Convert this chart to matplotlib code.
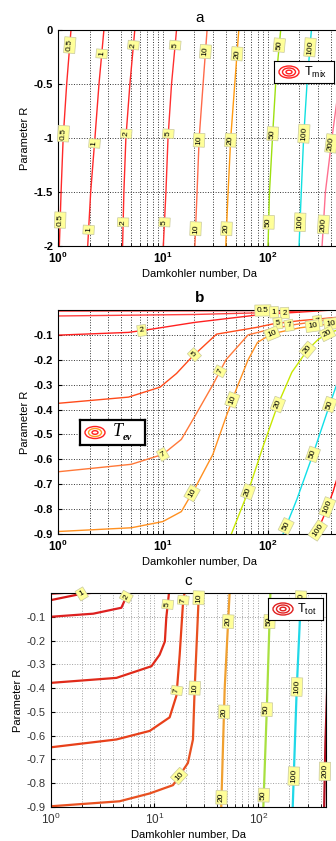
import numpy as np
import matplotlib.pyplot as plt
from matplotlib.patches import Ellipse

plt.rcParams['font.family'] = ['Liberation Sans', 'DejaVu Sans']
plt.rcParams['mathtext.fontset'] = 'custom'
plt.rcParams['mathtext.rm'] = 'Liberation Sans'
plt.rcParams['mathtext.it'] = 'Liberation Sans:italic'
plt.rcParams['mathtext.bf'] = 'Liberation Sans:bold'

W, H = 336, 841

# ---- panel a : T_mix (lines read at fixed R) ----
a_levels = ['0.5', '1', '2', '5', '10', '20', '50', '100', '200']
a_r = [0, -0.5, -1, -1.5, -2]
a_da = [
    [1.33, 1.21, 1.12, 1.07, 1.03],
    [2.74, 2.46, 2.25, 2.05, 1.92],
    [5.4, 4.85, 4.44, 4.25, 4.13],
    [13.5, 12.1, 11.2, 10.7, 10.1],
    [26.4, 24.2, 22.2, 21.2, 20.2],
    [53, 48.5, 44.4, 41.9, 39.8],
    [133, 119, 111, 104, 100.7],
    [261, 237, 220, 209, 199],
    [560, 480, 410, 355, 330],
]
a_colors = ['#ff2a2a', '#ff2a2a', '#ff2a2a', '#ff3030', '#ff6a4a',
            '#ff9a10', '#9ee010', '#10e0e0', '#ff7090']
a_label_r = [
    [-0.14, -0.96, -1.76], [-0.22, -1.05, -1.85], [-0.14, -0.96, -1.78],
    [-0.14, -0.96, -1.78], [-0.2, -1.02, -1.84], [-0.22, -1.02, -1.84],
    [-0.14, -0.96, -1.78], [-0.16, -0.96, -1.78], [-1.05, -1.8],
]

# ---- panel b : T_ev (lines read at fixed Da) ----
b_levels = ['0.5', '1', '2', '5', '7', '10', '20', '50', '100']
b_da = [
    [1, 30, 90, 140],
    [1, 20, 90, 200, 280],
    [1, 4.7, 7.8, 20, 87, 150, 300, 420],
    [1, 4.7, 9.4, 13.5, 18.8, 32.5, 78, 112, 200, 500],
    [1, 5, 10, 15, 20, 30, 40, 65, 100, 160, 300, 500],
    [1, 5, 10, 15, 20, 30, 40, 50, 65, 80, 110, 200, 300, 500],
    [45, 65, 90, 125, 170, 240, 300, 360, 500],
    [140, 190, 270, 390, 500],
    [290, 350, 420, 520],
]
b_r = [
    [-0.004, -0.003, -0.002, 0.0],
    [-0.024, -0.018, -0.011, -0.004, 0.0],
    [-0.101, -0.09, -0.077, -0.05, -0.018, -0.012, -0.004, 0.0],
    [-0.375, -0.35, -0.31, -0.255, -0.19, -0.097, -0.07, -0.056, -0.043, -0.028],
    [-0.65, -0.62, -0.58, -0.52, -0.43, -0.3, -0.2, -0.1, -0.08, -0.062, -0.045, -0.032],
    [-0.89, -0.875, -0.85, -0.81, -0.72, -0.58, -0.43, -0.32, -0.2, -0.13, -0.095, -0.072, -0.062, -0.05],
    [-0.9, -0.73, -0.55, -0.38, -0.25, -0.16, -0.12, -0.097, -0.075],
    [-0.9, -0.76, -0.58, -0.38, -0.25],
    [-0.9, -0.82, -0.73, -0.6],
]
b_colors = ['#ff2020', '#ff4040', '#ff2020', '#ff4a1a', '#ff7838',
            '#ff9020', '#c8e800', '#10e0e8', '#ff1010']
b_label_da = [[90], [115], [6.3, 145], [20, 125], [10, 35, 160, 300],
              [19, 46, 110, 268, 400], [65, 125, 240, 370], [150, 270, 390], [300, 370]]

# ---- panel c : T_tot (lines read at fixed Da) ----
c_levels = ['0.5', '1', '2', '5', '7', '10', '20', '50', '100', '200']
c_da = [
    [1, 1.3],
    [1, 1.9, 2.4],
    [1, 2.57, 4.8, 5.4, 5.8],
    [1, 4.3, 9.35, 11.2, 12.6, 13.0, 13.8],
    [1, 4.3, 9.0, 14.0, 16.3, 17.5, 18.9, 19.5],
    [1, 4.6, 9.0, 15.1, 21, 23.5, 24.4, 26.8],
    [44, 47.5, 53],
    [112, 121, 131],
    [215, 235, 259],
    [432, 444, 470],
]
c_r = [
    [-0.003, 0.0],
    [-0.03, -0.005, 0.0],
    [-0.1, -0.087, -0.062, -0.012, 0.0],
    [-0.378, -0.357, -0.308, -0.26, -0.204, -0.104, 0.0],
    [-0.649, -0.616, -0.58, -0.523, -0.431, -0.26, -0.033, 0.0],
    [-0.897, -0.876, -0.843, -0.808, -0.715, -0.616, -0.403, 0.0],
    [-0.9, -0.403, 0.0],
    [-0.9, -0.488, 0.0],
    [-0.9, -0.403, 0.0],
    [-0.9, -0.63, -0.3],
]
c_colors = ['#d81818', '#d81818', '#dd2020', '#e02a1a', '#e8401a',
            '#e85020', '#f0a030', '#a8e040', '#20d8e8', '#b01020']
c_label_r = [[], [-0.004], [-0.016], [-0.048], [-0.03, -0.41], [-0.02, -0.4, -0.77],
             [-0.12, -0.5, -0.86], [-0.12, -0.49, -0.85], [-0.03, -0.395, -0.77], [-0.75]]

fig = plt.figure(figsize=(W / 100, H / 100), dpi=100)


def make_axes(left, top, right, bottom):
    return fig.add_axes([left / W, 1 - bottom / H, (right - left) / W, (bottom - top) / H])


def put_label(ax, x, y, dx, dy, text):
    p0 = ax.transData.transform((dx[0], dy[0]))
    p1 = ax.transData.transform((dx[1], dy[1]))
    ang = np.degrees(np.arctan2(p1[1] - p0[1], p1[0] - p0[0]))
    if ang > 90:
        ang -= 180
    if ang <= -90:
        ang += 180
    ax.text(x, y, text, fontsize=6, rotation=ang, rotation_mode='anchor',
            ha='center', va='center', color='k', zorder=5, clip_on=False,
            bbox=dict(boxstyle='square,pad=0.25', fc='#ffff99', ec='#c8c8a0', lw=0.5))


def label_at_r(ax, da, r, at, text):
    r = np.asarray(r)[::-1]
    lg = np.log10(np.asarray(da))[::-1]
    if r[0] > r[-1]:
        r, lg = r[::-1], lg[::-1]
    x = 10 ** np.interp(at, r, lg)
    xa = 10 ** np.interp(at - 0.05, r, lg)
    xb = 10 ** np.interp(at + 0.05, r, lg)
    put_label(ax, x, at, (xa, xb), (at - 0.05, at + 0.05), text)


def label_at_da(ax, da, r, at, text):
    lg = np.log10(da)
    x = np.log10(at)
    y = np.interp(x, lg, r)
    ya = np.interp(x - 0.05, lg, r)
    yb = np.interp(x + 0.05, lg, r)
    put_label(ax, at, y, (10 ** (x - 0.05), 10 ** (x + 0.05)), (ya, yb), text)


def style_axes(ax, xmax, ylim, yticks, ylabels, bold, gridcol):
    ax.set_xscale('log')
    ax.set_xlim(1, xmax)
    ax.set_ylim(*ylim)
    ax.set_yticks(yticks)
    w = 'bold' if bold else 'normal'
    ax.set_yticklabels(ylabels, fontsize=8, fontweight=w)
    ax.set_xticks([1, 10, 100])
    if bold:
        ax.set_xticklabels([r'$\mathbf{10^{0}}$', r'$\mathbf{10^{1}}$', r'$\mathbf{10^{2}}$'], fontsize=8.5)
    else:
        ax.set_xticklabels([r'$10^{0}$', r'$10^{1}$', r'$10^{2}$'], fontsize=8.5, color='#333333')
        ax.tick_params(axis='y', labelcolor='#333333')
    ax.tick_params(which='both', direction='in', length=3)
    ax.tick_params(which='minor', length=2)
    ax.grid(True, which='both', axis='x', ls=':', color=gridcol, lw=0.7)
    ax.grid(True, which='major', axis='y', ls=':', color=gridcol, lw=0.7)
    ax.set_axisbelow(True)
    ax.set_xlabel('Damkohler number, Da', fontsize=8, labelpad=2)
    ax.set_ylabel('Parameter R', fontsize=8, labelpad=3)
    for sp in ax.spines.values():
        sp.set_linewidth(0.8)


def key_box(left, top, w, h, colors, lw_box):
    lax = fig.add_axes([left / W, 1 - (top + h) / H, w / W, h / H])
    lax.set_xlim(0, w)
    lax.set_ylim(0, h)
    lax.set_xticks([])
    lax.set_yticks([])
    for sp in lax.spines.values():
        sp.set_linewidth(lw_box)
    cx, cy = 15, h / 2
    for (ew, eh), c in zip([(20, 12), (13, 8), (6, 3.6)], colors):
        lax.add_patch(Ellipse((cx, cy), ew, eh, fill=False, ec=c, lw=1))
    return lax


# ---- a ----
ax = make_axes(58, 30, 341, 246)
style_axes(ax, 500, (-2, 0), [-2, -1.5, -1, -0.5, 0], ['-2', '-1.5', '-1', '-0.5', '0'], True, '#333333')
for lev, da, col, lr in zip(a_levels, a_da, a_colors, a_label_r):
    ax.plot(da, a_r, color=col, lw=1)
for lev, da, col, lr in zip(a_levels, a_da, a_colors, a_label_r):
    for at in lr:
        label_at_r(ax, da, a_r, at, lev)
ax.set_title('a', fontsize=11, pad=6)
lax = key_box(274, 61, 60, 22, ['#ff2020', '#ff2020', '#ff2020'], 0.8)
lax.text(30, 11, r'$\mathregular{T_{mix}}$', fontsize=9, va='center', ha='left')

# ---- b ----
ax = make_axes(58, 310, 341, 534)
style_axes(ax, 500, (-0.9, 0), [-0.9, -0.8, -0.7, -0.6, -0.5, -0.4, -0.3, -0.2, -0.1],
           ['-0.9', '-0.8', '-0.7', '-0.6', '-0.5', '-0.4', '-0.3', '-0.2', '-0.1'], True, '#333333')
for da, r, col in zip(b_da, b_r, b_colors):
    ax.plot(da, r, color=col, lw=1)
for lev, da, r, lds in zip(b_levels, b_da, b_r, b_label_da):
    for at in lds:
        if at < 500:
            label_at_da(ax, da, r, at, lev)
ax.set_title('b', fontsize=11, fontweight='bold', pad=6)
lax = key_box(80, 420, 65, 25, ['#ff2020', '#ff9a20', '#ff2020'], 1.6)
lax.text(33, 13, 'T', fontsize=13, family='Liberation Serif', style='italic', va='center')
lax.text(43, 7, 'ev', fontsize=7.5, family='Liberation Serif', style='italic', fontweight='bold', va='center')

# ---- c ----
ax = make_axes(50.7, 593, 326, 807)
style_axes(ax, 450, (-0.9, 0), [-0.9, -0.8, -0.7, -0.6, -0.5, -0.4, -0.3, -0.2, -0.1],
           ['-0.9', '-0.8', '-0.7', '-0.6', '-0.5', '-0.4', '-0.3', '-0.2', '-0.1'], False, '#a0a0a0')
for da, r, col in zip(c_da, c_r, c_colors):
    ax.plot(da, r, color=col, lw=1.6)
for lev, da, r, lr in zip(c_levels, c_da, c_r, c_label_r):
    for at in lr:
        label_at_r(ax, da, r, at, lev)
ax.set_title('c', fontsize=11, pad=6)
lax = key_box(268, 598, 55, 22, ['#e02020', '#e02020', '#e02020'], 0.8)
lax.text(29, 11, r'$\mathregular{T_{tot}}$', fontsize=9, va='center', ha='left')

fig.savefig('out.png', dpi=100)
